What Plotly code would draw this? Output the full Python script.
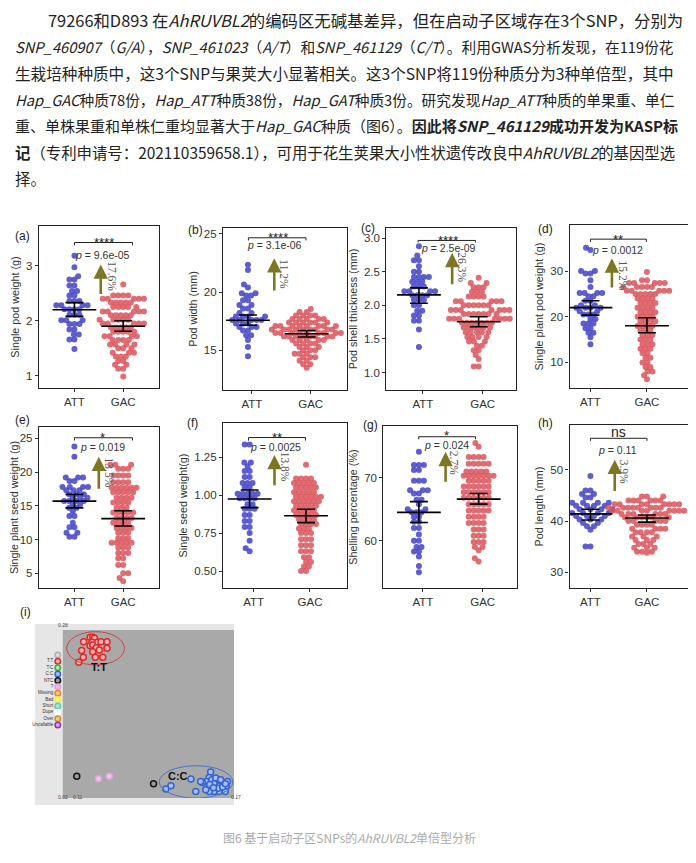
import math
import plotly.graph_objects as go

# the page body keeps its 8px margin, so the figure is drawn 8px smaller than the window
PAGE_W, PAGE_H = 696, 863
OFF = 8
W, H = PAGE_W - OFF, PAGE_H - OFF

# ---------------- data ----------------
panels = ["a", "b", "c", "d", "e", "f", "g", "h"]
groups = ["ATT", "GAC"]
y_titles = ["Single pod weight (g)", "Pod width (mm)", "Pod shell thickness (mm)",
            "Single plant pod weight (g)", "Single plant seed weight (g)",
            "Single seed weight(g)", "Shelling percentage (%)", "Pod length (mm)"]
y_tickvals = [[1, 2, 3], [15, 20, 25], [1.0, 1.5, 2.0, 2.5, 3.0], [10, 20, 30],
              [5, 10, 15, 20, 25], [0.5, 0.75, 1.0, 1.25], [60, 70], [30, 40, 50]]
y_ticktext = [["1", "2", "3"], ["15", "20", "25"], ["1.0", "1.5", "2.0", "2.5", "3.0"],
              ["10", "20", "30"], ["5", "10", "15", "20", "25"],
              ["0.50", "0.75", "1.00", "1.25"], ["60", "70"], ["30", "40", "50"]]
p_values = ["9.6e-05", "3.1e-06", "2.5e-09", "0.0012", "0.019", "0.0025", "0.024", "0.11"]
signif = ["****", "****", "****", "**", "*", "**", "*", "ns"]
increase = ["17.6%", "11.2%", "26.3%", "15.2%", "13.5%", "13.8%", "2.7%", "3.9%"]

att_mean = [2.20, 17.58, 2.155, 22.0, 15.7, 0.975, 64.5, 41.4]
att_lo = [2.08, 17.15, 2.03, 20.36, 14.7, 0.918, 62.9, 40.2]
att_hi = [2.33, 18.04, 2.26, 23.5, 16.7, 1.034, 66.2, 42.3]
gac_mean = [1.90, 16.43, 1.756, 18.05, 13.1, 0.864, 66.6, 40.6]
gac_lo = [1.81, 16.15, 1.68, 16.5, 12.0, 0.819, 65.8, 39.8]
gac_hi = [2.00, 16.70, 1.83, 19.8, 14.26, 0.907, 67.5, 41.2]

# (value, number of accessions at that value)
att_a = [(3.18, 1), (2.97, 1), (2.81, 1), (2.75, 2), (2.64, 2), (2.54, 2), (2.46, 2), (2.36, 3), (2.28, 4),
         (2.21, 4), (2.11, 3), (2.01, 3), (1.94, 3), (1.84, 2), (1.75, 2), (1.66, 2), (1.49, 1)]
gac_a = [(2.66, 1), (2.46, 4), (2.40, 5), (2.33, 5), (2.25, 5), (2.17, 5), (2.10, 5), (2.02, 5), (1.95, 5),
         (1.88, 5), (1.80, 5), (1.72, 4), (1.65, 4), (1.57, 4), (1.50, 3), (1.42, 3), (1.35, 3), (1.27, 2),
         (1.20, 2), (1.13, 2), (0.99, 1)]
att_b = [(22.35, 1), (21.9, 1), (20.65, 1), (20.4, 1), (19.9, 2), (19.7, 2), (19.3, 2), (18.9, 2), (18.6, 2),
         (18.2, 2), (17.9, 4), (17.6, 5), (17.3, 3), (17.0, 3), (16.7, 2), (16.3, 2), (15.9, 1), (15.3, 1),
         (14.5, 1)]
gac_b = [(18.55, 1), (18.3, 2), (18.0, 4), (17.7, 5), (17.4, 6), (17.1, 8), (16.8, 9), (16.5, 9), (16.2, 8),
         (15.9, 5), (15.6, 4), (15.3, 3), (15.0, 3), (14.7, 3), (14.4, 3), (14.1, 2), (13.8, 2), (13.5, 1)]
att_c = [(2.88, 1), (2.74, 1), (2.67, 2), (2.58, 1), (2.50, 2), (2.42, 4), (2.35, 3), (2.28, 3), (2.21, 4),
         (2.15, 4), (2.08, 3), (2.00, 2), (1.92, 2), (1.85, 2), (1.77, 2), (1.64, 1), (1.38, 1)]
gac_c = [(2.41, 1), (2.33, 2), (2.27, 3), (2.20, 3), (2.13, 4), (2.06, 5), (2.00, 6), (1.93, 7), (1.87, 7),
         (1.80, 7), (1.74, 7), (1.67, 6), (1.60, 5), (1.53, 4), (1.46, 3), (1.40, 2), (1.33, 2), (1.26, 1),
         (1.20, 1), (1.09, 2)]
att_d = [(35.1, 1), (34.6, 1), (30.0, 2), (29.5, 2), (28.0, 1), (26.5, 1), (25.2, 4), (24.5, 2), (23.5, 2),
         (22.5, 2), (22.0, 4), (21.2, 2), (20.5, 3), (19.5, 2), (18.5, 3), (17.5, 2), (16.5, 2), (15.5, 1),
         (14.0, 1)]
gac_d = [(29.8, 1), (28.0, 2), (27.4, 5), (26.5, 5), (25.7, 5), (25.0, 5), (24.0, 4), (23.0, 4), (22.0, 4),
         (21.0, 4), (20.0, 4), (19.0, 4), (18.0, 4), (17.0, 3), (16.0, 3), (15.0, 3), (14.0, 3), (13.0, 3),
         (12.0, 2), (11.0, 2), (10.0, 2), (9.0, 2), (8.0, 2), (7.2, 1), (6.3, 1)]
att_e = [(23.8, 1), (22.3, 1), (19.2, 3), (18.7, 2), (17.8, 4), (17.3, 3), (16.7, 3), (16.2, 3), (15.7, 4),
         (15.2, 2), (14.7, 2), (14.2, 1), (13.5, 2), (12.5, 1), (11.8, 2), (11.0, 2), (10.4, 2)]
gac_e = [(21.1, 3), (20.5, 3), (19.5, 4), (18.5, 4), (17.7, 6), (17.0, 5), (16.2, 4), (15.5, 4), (14.7, 3),
         (14.0, 5), (13.2, 4), (12.5, 4), (11.7, 4), (11.0, 3), (10.2, 3), (9.5, 5), (8.8, 3), (8.0, 3),
         (7.2, 2), (6.2, 2), (5.0, 2), (4.3, 1), (3.8, 1)]
att_f = [(1.335, 2), (1.215, 2), (1.19, 1), (1.16, 2), (1.12, 2), (1.08, 3), (1.05, 2), (1.01, 5), (0.98, 4),
         (0.94, 2), (0.91, 3), (0.87, 2), (0.83, 2), (0.79, 2), (0.75, 1), (0.70, 1), (0.65, 1), (0.63, 1)]
gac_f = [(1.20, 1), (1.11, 4), (1.08, 5), (1.05, 5), (1.02, 5), (0.99, 6), (0.96, 6), (0.93, 5), (0.90, 5),
         (0.87, 5), (0.84, 4), (0.81, 4), (0.78, 3), (0.75, 3), (0.71, 3), (0.67, 3), (0.63, 3), (0.59, 2),
         (0.56, 2), (0.53, 2), (0.50, 2)]
att_g = [(74.1, 1), (72.0, 3), (71.2, 2), (69.5, 3), (68.0, 3), (67.5, 2), (66.5, 2), (65.8, 1), (65.0, 2),
         (64.5, 3), (63.8, 2), (63.0, 2), (62.0, 2), (61.0, 1), (60.0, 2), (59.0, 2), (58.3, 2), (57.5, 1),
         (56.0, 1), (55.0, 1)]
gac_g = [(75.5, 1), (74.9, 1), (73.3, 4), (72.2, 5), (71.0, 5), (70.3, 7), (69.5, 5), (68.6, 6), (67.7, 6),
         (66.8, 6), (65.8, 5), (64.8, 5), (63.8, 4), (62.8, 4), (61.8, 3), (60.8, 3), (59.8, 3), (59.0, 2),
         (58.5, 1), (57.2, 1), (56.7, 1)]
att_h = [(48.8, 1), (46.0, 2), (45.3, 2), (44.6, 2), (43.6, 4), (43.0, 4), (42.3, 4), (41.6, 5), (41.0, 4),
         (40.3, 3), (39.6, 2), (39.0, 2), (38.3, 1), (35.0, 2)]
gac_h = [(44.8, 3), (44.0, 6), (43.3, 8), (42.6, 8), (42.0, 8), (41.4, 6), (40.7, 6), (40.0, 5), (39.3, 4),
         (38.5, 4), (37.8, 4), (37.0, 3), (36.3, 3), (35.5, 3), (34.8, 3), (34.0, 3), (33.8, 1)]
att_rows = [att_a, att_b, att_c, att_d, att_e, att_f, att_g, att_h]
gac_rows = [gac_a, gac_b, gac_c, gac_d, gac_e, gac_f, gac_g, gac_h]

# panel (i): KASP genotyping cluster plot
tt_x = [0.1196, 0.1205, 0.1211, 0.1173, 0.1203, 0.1222, 0.1234, 0.1255, 0.1196, 0.1205, 0.1217, 0.1228,
        0.1166, 0.1205, 0.1255, 0.1172, 0.1214, 0.1240, 0.1156]
tt_y = [0.2687, 0.2687, 0.2671, 0.2620, 0.2610, 0.2610, 0.2620, 0.2620, 0.2558, 0.2568, 0.2527, 0.2491,
        0.2481, 0.2465, 0.2517, 0.2378, 0.2378, 0.2378, 0.2301]
cc_x = [0.1618, 0.1613, 0.1603, 0.1622, 0.1636, 0.1648, 0.1659, 0.1665, 0.1673, 0.1653, 0.1636, 0.1618,
        0.1607, 0.1624, 0.1642, 0.1659, 0.1669, 0.1648, 0.1630, 0.1613, 0.1589, 0.1549, 0.1583, 0.1566,
        0.1479, 0.1461, 0.1677, 0.1601, 0.1636, 0.1653, 0.1630, 0.1645, 0.1660, 0.1615, 0.1628, 0.1670]
cc_y = [0.0601, 0.0519, 0.0457, 0.0483, 0.0457, 0.0431, 0.0441, 0.0405, 0.0380, 0.0354, 0.0328, 0.0328,
        0.0380, 0.0390, 0.0390, 0.0328, 0.0302, 0.0302, 0.0302, 0.0302, 0.0441, 0.0493, 0.0457, 0.0302,
        0.0390, 0.0338, 0.0457, 0.0328, 0.0508, 0.0483, 0.0420, 0.0350, 0.0370, 0.0410, 0.0360, 0.0420]
ntc_x = [0.1149, 0.1418]
ntc_y = [0.0535, 0.0421]
unk_x = [0.1225, 0.1263]
unk_y = [0.0499, 0.0535]
legend_labels = ["", "T:T", "T:C", "C:C", "NTC", "?", "Missing", "Bad", "Short", "Dupe", "Over", "Uncallable"]
legend_fill = ["#dcdcdc", "#f4b4b4", "#b4e4a4", "#a8bcf0", "#9a9a9a", "#f2b8e6", "#f8c494",
               "#f6f66a", "#a4e8d8", "#ffffff", "#e8d094", "#d4a4e4"]
legend_line = ["#b0b0b0", "#e02828", "#3cb030", "#3464d0", "#151515", "#e6a0da", "#f08424",
               "#eeee40", "#5ccfb6", "#ffffff", "#c89424", "#9434a4"]

paragraph = [
    "79266和D893 在<i>AhRUVBL2</i>的编码区无碱基差异，但在启动子区域存在3个SNP，分别为",
    "<i>SNP_460907</i>（<i>G/A</i>），<i>SNP_461023</i>（<i>A/T</i>）和<i>SNP_461129</i>（<i>C/T</i>）。利用GWAS分析发现，在119份花",
    "生栽培种种质中，这3个SNP与果荚大小显著相关。这3个SNP将119份种质分为3种单倍型，其中",
    "<i>Hap_GAC</i>种质78份，<i>Hap_ATT</i>种质38份，<i>Hap_GAT</i>种质3份。研究发现<i>Hap_ATT</i>种质的单果重、单仁",
    "重、单株果重和单株仁重均显著大于<i>Hap_GAC</i>种质（图6）。<b>因此将<i>SNP_461129</i>成功开发为KASP标</b>",
    "<b>记</b>（专利申请号：202110359658.1），可用于花生荚果大小性状遗传改良中<i>AhRUVBL2</i>的基因型选",
    "择。",
]
caption = "图6 基于启动子区SNPs的<i>AhRUVBL2</i>单倍型分析"

# ---------------- layout (pixels of the reference page) ----------------
para_sizes = [16.4, 14.7, 15.6, 14.7, 15.0, 15.4, 15.4]
boxes = [(36, 157, 226, 388), (221, 345, 228, 390), (385, 515, 228, 390), (569, 692, 225, 388),
         (36, 157, 427, 588), (221, 345, 423, 588), (382, 516, 426, 588), (569, 692, 425, 588)]
cat_px = [(71.7, 120.7), (250, 309), (421.7, 481.7), (590, 646.7),
          (71.7, 120.7), (251.7, 308.3), (421.7, 481.7), (590, 646.7)]
shift_px = [0, -4, -4, 0, 0, -4, -4, 0]
y_ranges = [(0.78, 3.72), (11.6, 25.5), (0.74, 3.15), (4.4, 40.1),
            (2.8, 26.7), (0.388, 1.476), (52.5, 78.2), (26.9, 58.8)]
label_px = [(10, 227), (184, 221), (358, 219), (535, 220), (10, 420), (183, 423), (360, 425), (535, 423)]
brackets = [(0, 1.19, 3.42, 3.37), (-0.06, 0.92, 24.66, 24.43), (-0.08, 0.88, 2.965, 2.935),
            (0, 0.99, 37.0, 36.4), (0, 1.19, 25.1, 24.7), (-0.09, 0.92, 1.38, 1.36),
            (-0.07, 0.88, 76.5, 76.1), (0, 1.0, 56.2, 55.7)]
sig_pos = [(0.6, 3.50), (0.45, 25.0), (0.42, 3.02), (0.49, 37.9), (0.58, 25.7), (0.41, 1.405),
           (0.39, 77.4), (0.49, 57.4)]
p_pos = [(0.58, 3.2), (0.39, 24.0), (0.43, 2.85), (0.485, 34.7), (0.58, 23.76), (0.39, 1.32),
         (0.40, 75.2), (0.485, 54.0)]
arrows = [(0.54, 2.46, 3.02), (0.38, 20.0, 22.9), (0.49, 2.29, 2.78), (0.38, 26.1, 32.8),
          (0.50, 17.3, 22.3), (0.37, 1.056, 1.265), (0.38, 69.1, 74.1), (0.43, 45.6, 52.0)]
pct_pos = [(0.78, 2.8), (0.55, 21.5), (0.66, 2.56), (0.57, 29.1), (0.70, 20.0), (0.55, 1.19),
           (0.51, 72.3), (0.59, 49.7)]

ATT_COLOR = "rgba(72,72,200,0.88)"
GAC_COLOR = "rgba(218,84,90,0.85)"
ARROW_COLOR = "#7d7622"
DOT = 6
SPACING = 5.0


def px(x):
    return (x - OFF) / W


def py(y):
    return 1 - (y - OFF) / H


def expand(rows):
    vals = []
    for v, n in rows:
        vals += [v] * n
    return vals


def swarm(vals, ppu_y, spacing):
    # beeswarm offsets in pixels, points placed from low to high value
    order = sorted(range(len(vals)), key=lambda i: vals[i])
    placed = []
    offs = [0.0] * len(vals)
    for i in order:
        y = vals[i] * ppu_y
        bounds = []
        cands = [0.0]
        for qx, qy in placed:
            dy = abs(qy - y)
            if dy < spacing:
                dx = math.sqrt(spacing ** 2 - dy ** 2)
                bounds.append((qx - dx, qx + dx))
                cands += [qx - dx, qx + dx]
        cands.sort(key=abs)
        for c in cands:
            if all(not (lo + 1e-6 < c < hi - 1e-6) for lo, hi in bounds):
                break
        placed.append((c, y))
        offs[i] = c
    return offs


fig = go.Figure()
layout = {}
annotations = []
shapes = []

for k in range(8):
    n = k + 1
    xa, ya = ("x", "y") if n == 1 else (f"x{n}", f"y{n}")
    l, r, t, b = boxes[k]
    att_px, gac_px = cat_px[k]
    ppu_x = gac_px - att_px
    y0, y1 = y_ranges[k]
    ppu_y = (b - t) / (y1 - y0)
    xr = [(l - att_px) / ppu_x, (r - att_px) / ppu_x]
    sh = shift_px[k] / ppu_x

    for gi, (rows, color) in enumerate([(att_rows[k], ATT_COLOR), (gac_rows[k], GAC_COLOR)]):
        vals = expand(rows)
        offs = swarm(vals, ppu_y, SPACING)
        fig.add_trace(go.Scatter(
            x=[gi + sh + o / ppu_x for o in offs], y=vals, mode="markers",
            marker=dict(size=DOT, color=color, line=dict(width=0)),
            xaxis=xa, yaxis=ya, showlegend=False, hoverinfo="y", name=groups[gi]))

    hw, cw = 22 / ppu_x, 9 / ppu_x
    xs, ys = [], []
    for gi, (m, lo, hi) in enumerate([(att_mean[k], att_lo[k], att_hi[k]),
                                      (gac_mean[k], gac_lo[k], gac_hi[k])]):
        c = gi + sh
        xs += [c - hw, c + hw, None, c, c, None, c - cw, c + cw, None, c - cw, c + cw, None]
        ys += [m, m, None, lo, hi, None, lo, lo, None, hi, hi, None]
    fig.add_trace(go.Scatter(x=xs, y=ys, mode="lines", line=dict(color="black", width=1.6),
                             xaxis=xa, yaxis=ya, showlegend=False, hoverinfo="skip"))

    bx0, bx1, by, bd = brackets[k]
    fig.add_trace(go.Scatter(x=[bx0, bx0, bx1, bx1], y=[bd, by, by, bd], mode="lines",
                             line=dict(color="#222", width=1), xaxis=xa, yaxis=ya,
                             showlegend=False, hoverinfo="skip"))

    sx, sy = sig_pos[k]
    is_ns = signif[k] == "ns"
    annotations.append(dict(x=sx, y=sy, xref=xa, yref=ya, text=signif[k], showarrow=False,
                            font=dict(size=14 if is_ns else 13, color="#222"),
                            yshift=0 if is_ns else -4))
    px_, py_ = p_pos[k]
    annotations.append(dict(x=px_, y=py_, xref=xa, yref=ya, text=f"<i>p</i> = {p_values[k]}",
                            showarrow=False, font=dict(size=10.5, color="#333")))
    ax_, ay0, ay1 = arrows[k]
    annotations.append(dict(x=ax_, y=ay1, ax=ax_, ay=ay0, xref=xa, yref=ya, axref=xa, ayref=ya,
                            text="", showarrow=True, arrowhead=2, arrowsize=1.1, arrowwidth=2.6,
                            arrowcolor=ARROW_COLOR, standoff=0, startstandoff=0))
    tx, ty = pct_pos[k]
    annotations.append(dict(x=tx, y=ty, xref=xa, yref=ya, text=increase[k], showarrow=False,
                            textangle=90, font=dict(family="Liberation Serif", size=11.5, color="#555")))
    lx, ly = label_px[k]
    annotations.append(dict(x=px(lx), y=py(ly), xref="paper", yref="paper", text=f"({panels[k]})",
                            showarrow=False, xanchor="left", font=dict(size=12, color="#222")))

    key = "" if n == 1 else str(n)
    layout["xaxis" + key] = dict(domain=[px(l), px(r)], range=xr, anchor=ya, tickvals=[0, 1],
                                 ticktext=groups, showline=True, mirror=True, linecolor="#222",
                                 linewidth=1.2, ticks="outside", ticklen=3, tickcolor="#333",
                                 tickfont=dict(size=11.5, color="#333"), showgrid=False,
                                 zeroline=False, fixedrange=True)
    layout["yaxis" + key] = dict(domain=[py(b), py(t)], range=[y0, y1], anchor=xa,
                                 tickvals=y_tickvals[k], ticktext=y_ticktext[k], showline=True,
                                 mirror=True, linecolor="#222", linewidth=1.2, ticks="outside",
                                 ticklen=3, tickcolor="#333", tickfont=dict(size=11.5, color="#333"),
                                 title=dict(text=y_titles[k], font=dict(size=10.8, color="#333"),
                                            standoff=4),
                                 showgrid=False, zeroline=False, fixedrange=True)

# ---------------- panel (i) ----------------
layout["xaxis9"] = dict(domain=[px(60), px(232)], range=[0.11, 0.17], anchor="y9", visible=False,
                        fixedrange=True)
layout["yaxis9"] = dict(domain=[py(798), py(630)], range=[0.02, 0.28], anchor="x9", visible=False,
                        fixedrange=True)
layout["xaxis10"] = dict(domain=[px(50), px(60)], range=[-1, 1], anchor="y10", visible=False,
                         fixedrange=True)
layout["yaxis10"] = dict(domain=[py(728.2), py(651.8)], range=[11.5, -0.5], anchor="x10",
                         visible=False, fixedrange=True)

shapes.append(dict(type="rect", xref="paper", yref="paper", x0=px(32), x1=px(232),
                   y0=py(805), y1=py(624), fillcolor="#e6e6e6", line=dict(width=0), layer="below"))
shapes.append(dict(type="rect", xref="x9 domain", yref="y9 domain", x0=0, x1=1, y0=0, y1=1,
                   fillcolor="#a9a9a9", line=dict(width=0), layer="below"))
shapes.append(dict(type="circle", xref="x9", yref="y9", x0=0.1114, x1=0.1316, y0=0.2259, y1=0.2774,
                   line=dict(color="#cc4444", width=1)))
shapes.append(dict(type="circle", xref="x9", yref="y9", x0=0.1438, x1=0.1696, y0=0.0199, y1=0.0699,
                   line=dict(color="#4f72c4", width=1)))

for xs, ys, fill, edge in [(tt_x, tt_y, "#f4b4b4", "#e02828"), (cc_x, cc_y, "#a8bcf0", "#3464d0"),
                           (ntc_x, ntc_y, "#9a9a9a", "#151515"), (unk_x, unk_y, "#f2c6ea", "#e6a0da")]:
    fig.add_trace(go.Scatter(x=xs, y=ys, mode="markers", xaxis="x9", yaxis="y9", showlegend=False,
                             marker=dict(size=6, color=fill, line=dict(color=edge, width=1.5)),
                             hoverinfo="skip"))

fig.add_trace(go.Scatter(x=[0] * len(legend_labels), y=list(range(len(legend_labels))),
                         mode="markers+text", text=legend_labels, textposition="middle left",
                         textfont=dict(size=4.5, color="#333"), xaxis="x10", yaxis="y10",
                         marker=dict(size=5.5, color=legend_fill, line=dict(color=legend_line, width=1.5)),
                         showlegend=False, hoverinfo="skip", cliponaxis=False))

annotations.append(dict(x=0.1228, y=0.2234, xref="x9", yref="y9", text="<b>T:T</b>", showarrow=False,
                        font=dict(size=11, color="#111")))
annotations.append(dict(x=0.1502, y=0.0534, xref="x9", yref="y9", text="<b>C:C</b>", showarrow=False,
                        font=dict(size=11, color="#111")))
for txt, cx, cy in [("0.28", 53, 630), ("0.02", 53, 802), ("0.11", 68, 802), ("0.17", 227, 802)]:
    annotations.append(dict(x=px(cx), y=py(cy), xref="paper", yref="paper", text=txt,
                            showarrow=False, font=dict(size=5, color="#444")))
annotations.append(dict(x=px(15), y=py(621), xref="paper", yref="paper", text="(i)",
                        showarrow=False, font=dict(size=12, color="#222")))

# ---------------- text ----------------
for i, line in enumerate(paragraph):
    x0 = 43 if i == 0 else 10
    annotations.append(dict(x=px(x0), y=py(20 + 26.4 * i), xref="paper", yref="paper",
                            text=line, showarrow=False, xanchor="left", yanchor="middle",
                            font=dict(family="Noto Sans CJK SC", size=para_sizes[i], color="#222")))
annotations.append(dict(x=px(347.5), y=py(847.7), xref="paper", yref="paper", text=caption,
                        showarrow=False, font=dict(family="Noto Sans CJK SC", size=12, color="#aaa")))

fig.update_layout(width=W, height=H, margin=dict(l=0, r=0, t=0, b=0), paper_bgcolor="white",
                  plot_bgcolor="rgba(0,0,0,0)", font=dict(family="Liberation Sans", color="#333"),
                  annotations=annotations, shapes=shapes, showlegend=False, **layout)

fig.write_html("out.html")
